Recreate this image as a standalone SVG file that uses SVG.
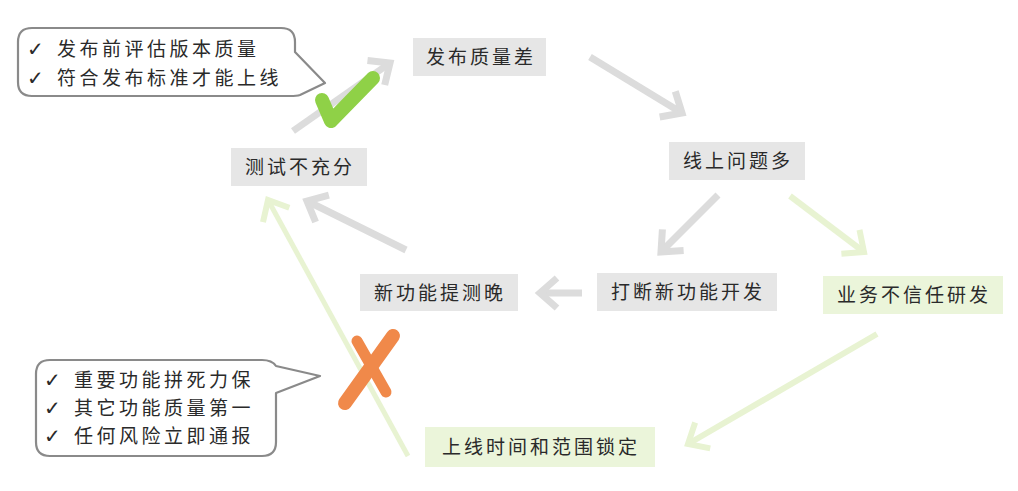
<svg xmlns="http://www.w3.org/2000/svg" width="1018" height="491" viewBox="0 0 1018 491">
<defs>
<style>
.nodeG{fill:#e6e6e6}
.nodeL{fill:#ebf5da}
.t{font-family:"Noto Sans CJK SC","Noto Sans",sans-serif;font-size:19px;fill:#2a2a2a;letter-spacing:3px;text-anchor:middle}
.ct{font-family:"Noto Sans CJK SC","Noto Sans",sans-serif;font-size:19px;fill:#2a2a2a;letter-spacing:3.5px}
.ck{font-family:"DejaVu Sans",sans-serif;font-size:20px;font-weight:bold;fill:#2a2a2a}
.bubble{fill:#fff;stroke:#8a8a8a;stroke-width:2.2;stroke-linejoin:round}
.ag{stroke:#dcdcdc;stroke-width:7;fill:none;marker-end:url(#hg)}
.al{stroke:#e8f3d2;stroke-width:6;fill:none;marker-end:url(#hl)}
</style>
<marker id="hg" markerUnits="userSpaceOnUse" viewBox="-30 -20 40 40" markerWidth="40" markerHeight="40" refX="0" refY="0" orient="auto">
<path d="M-17,-15 L0,0 L-17,15" fill="none" stroke="#dcdcdc" stroke-width="7"/>
</marker>
<marker id="hl" markerUnits="userSpaceOnUse" viewBox="-30 -20 40 40" markerWidth="40" markerHeight="40" refX="0" refY="0" orient="auto">
<path d="M-17,-15 L0,0 L-17,15" fill="none" stroke="#e8f3d2" stroke-width="6"/>
</marker>
</defs>
<rect width="1018" height="491" fill="#ffffff"/>

<g id="connectors">
<line class="al" x1="408" y1="456" x2="268" y2="200" style="stroke-width:5"/>
<line class="ag" x1="293" y1="131" x2="390" y2="63"/>
<line class="ag" x1="590" y1="57" x2="682" y2="113"/>
<line class="ag" x1="718" y1="195" x2="661" y2="252"/>
<line class="al" x1="790" y1="196" x2="864" y2="252"/>
<line class="ag" x1="582" y1="293" x2="540" y2="293"/>
<line class="ag" x1="406" y1="250" x2="307" y2="201"/>
<line class="al" x1="877" y1="334" x2="688" y2="444"/>
</g>

<g id="check-mark">
<path d="M322,100 L331,121 L373,78" fill="none" stroke="#8fd147" stroke-width="14" stroke-linecap="round" stroke-linejoin="round"/>
</g>
<g id="cross-mark">
<line x1="357" y1="341" x2="386" y2="392" stroke="#f0894a" stroke-width="11" stroke-linecap="round"/>
<line x1="393" y1="336" x2="345" y2="403" stroke="#f0894a" stroke-width="14" stroke-linecap="round"/>
</g>

<g id="callout-release">
<path class="bubble" d="M32,28 H281 Q295,28 295,42 V52 L325,83 L300,95 Q297,96 290,96 H32 Q18,96 18,82 V42 Q18,28 32,28 Z"/>
<text class="ck" x="27" y="56">✓</text>
<text class="ct" x="57" y="56">发布前评估版本质量</text>
<text class="ck" x="27" y="85">✓</text>
<text class="ct" x="57" y="85">符合发布标准才能上线</text>
</g>

<g id="callout-scope">
<path class="bubble" d="M50,360 H262 Q272,360 276,366 L320,376 L276,393 V442 Q276,456 262,456 H50 Q36,456 36,442 V374 Q36,360 50,360 Z"/>
<text class="ck" x="44" y="387">✓</text>
<text class="ct" x="74" y="387">重要功能拼死力保</text>
<text class="ck" x="44" y="415">✓</text>
<text class="ct" x="74" y="415">其它功能质量第一</text>
<text class="ck" x="44" y="443">✓</text>
<text class="ct" x="74" y="443">任何风险立即通报</text>
</g>

<g id="node-release-quality">
<rect class="nodeG" x="413" y="38" width="133" height="38"/>
<text class="t" x="481" y="64">发布质量差</text>
</g>
<g id="node-online-issues">
<rect class="nodeG" x="669" y="142" width="136" height="38"/>
<text class="t" x="738" y="168">线上问题多</text>
</g>
<g id="node-test-insufficient">
<rect class="nodeG" x="231" y="148" width="136" height="38"/>
<text class="t" x="300" y="174">测试不充分</text>
</g>
<g id="node-late-test">
<rect class="nodeG" x="360" y="274" width="158" height="37"/>
<text class="t" x="440" y="300">新功能提测晚</text>
</g>
<g id="node-interrupt">
<rect class="nodeG" x="597" y="273" width="180" height="38"/>
<text class="t" x="688" y="299">打断新功能开发</text>
</g>
<g id="node-distrust">
<rect class="nodeL" x="823" y="276" width="180" height="38"/>
<text class="t" x="914" y="302">业务不信任研发</text>
</g>
<g id="node-lock">
<rect class="nodeL" x="425" y="427" width="230" height="40"/>
<text class="t" x="541" y="454">上线时间和范围锁定</text>
</g>
</svg>
